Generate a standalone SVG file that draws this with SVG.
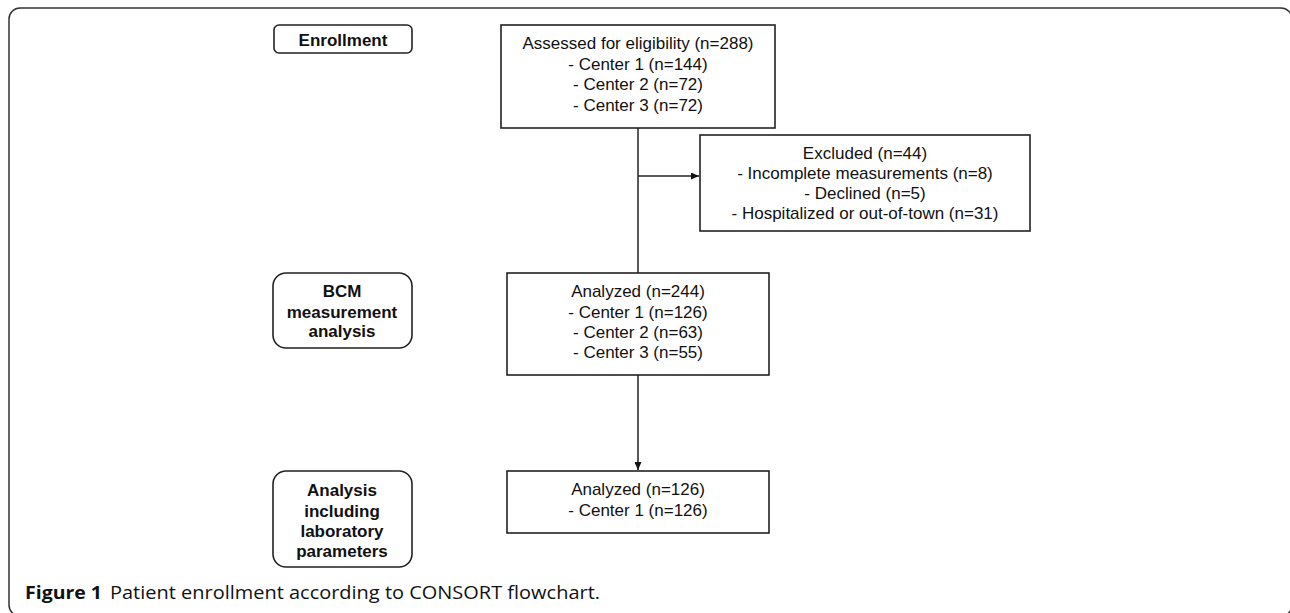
<svg xmlns="http://www.w3.org/2000/svg" width="1290" height="613" viewBox="0 0 1290 613">
<style>
.box{fill:#fff;stroke:#222;stroke-width:1.6}
.t{font-family:"Liberation Sans",Arial,sans-serif;font-size:17px;fill:#111;text-anchor:middle}
.b{font-weight:bold}
.ln{fill:none;stroke:#222;stroke-width:1.5}
.cap{font-family:"Open Sans","Liberation Sans",sans-serif;font-size:18px;fill:#111}
</style>
<defs>
<marker id="ah" viewBox="0 0 10 10" refX="10" refY="5" markerWidth="8" markerHeight="7" markerUnits="userSpaceOnUse" orient="auto" preserveAspectRatio="none">
<path d="M0,0 L10,5 L0,10 z" fill="#111"/>
</marker>
</defs>
<rect width="1290" height="613" fill="#fff"/>
<rect x="9" y="8" width="1283" height="608" rx="11" fill="none" stroke="#333" stroke-width="1.5"/>
<g id="connectors">
<line class="ln" x1="638" y1="128" x2="638" y2="273"/>
<line class="ln" x1="638" y1="176" x2="699" y2="176" marker-end="url(#ah)"/>
<line class="ln" x1="638" y1="353" x2="638" y2="470" marker-end="url(#ah)"/>
</g>
<g id="enrollment">
<rect class="box" x="274" y="25" width="138" height="28" rx="5"/>
<text class="t b" x="343" y="46">Enrollment</text>
</g>
<g id="assessed">
<rect class="box" x="501" y="25" width="274" height="103"/>
<text class="t" x="638" y="49">Assessed for eligibility (n=288)</text>
<text class="t" x="638" y="70">- Center 1 (n=144)</text>
<text class="t" x="638" y="90">- Center 2 (n=72)</text>
<text class="t" x="638" y="111">- Center 3 (n=72)</text>
</g>
<g id="excluded">
<rect class="box" x="700" y="135" width="330" height="96"/>
<text class="t" x="865" y="159">Excluded (n=44)</text>
<text class="t" x="865" y="179">- Incomplete measurements (n=8)</text>
<text class="t" x="865" y="199">- Declined (n=5)</text>
<text class="t" x="865" y="219">- Hospitalized or out-of-town (n=31)</text>
</g>
<g id="bcm">
<rect class="box" x="273" y="273" width="139" height="75" rx="13"/>
<text class="t b" x="342" y="297">BCM</text>
<text class="t b" x="342" y="318">measurement</text>
<text class="t b" x="342" y="337">analysis</text>
</g>
<g id="analyzed244">
<rect class="box" x="507" y="273" width="262" height="102"/>
<text class="t" x="638" y="297">Analyzed (n=244)</text>
<text class="t" x="638" y="318">- Center 1 (n=126)</text>
<text class="t" x="638" y="338">- Center 2 (n=63)</text>
<text class="t" x="638" y="358">- Center 3 (n=55)</text>
</g>
<g id="lab">
<rect class="box" x="273" y="471" width="139" height="96" rx="13"/>
<text class="t b" x="342" y="496">Analysis</text>
<text class="t b" x="342" y="517">including</text>
<text class="t b" x="342" y="537">laboratory</text>
<text class="t b" x="342" y="557">parameters</text>
</g>
<g id="analyzed126">
<rect class="box" x="507" y="471" width="262" height="62"/>
<text class="t" x="638" y="495">Analyzed (n=126)</text>
<text class="t" x="638" y="516">- Center 1 (n=126)</text>
</g>
<g id="caption">
<text class="cap" x="25" y="599" font-weight="bold" textLength="77" lengthAdjust="spacingAndGlyphs">Figure 1</text>
<text class="cap" x="110" y="599" textLength="490" lengthAdjust="spacingAndGlyphs">Patient enrollment according to CONSORT flowchart.</text>
</g>
</svg>
